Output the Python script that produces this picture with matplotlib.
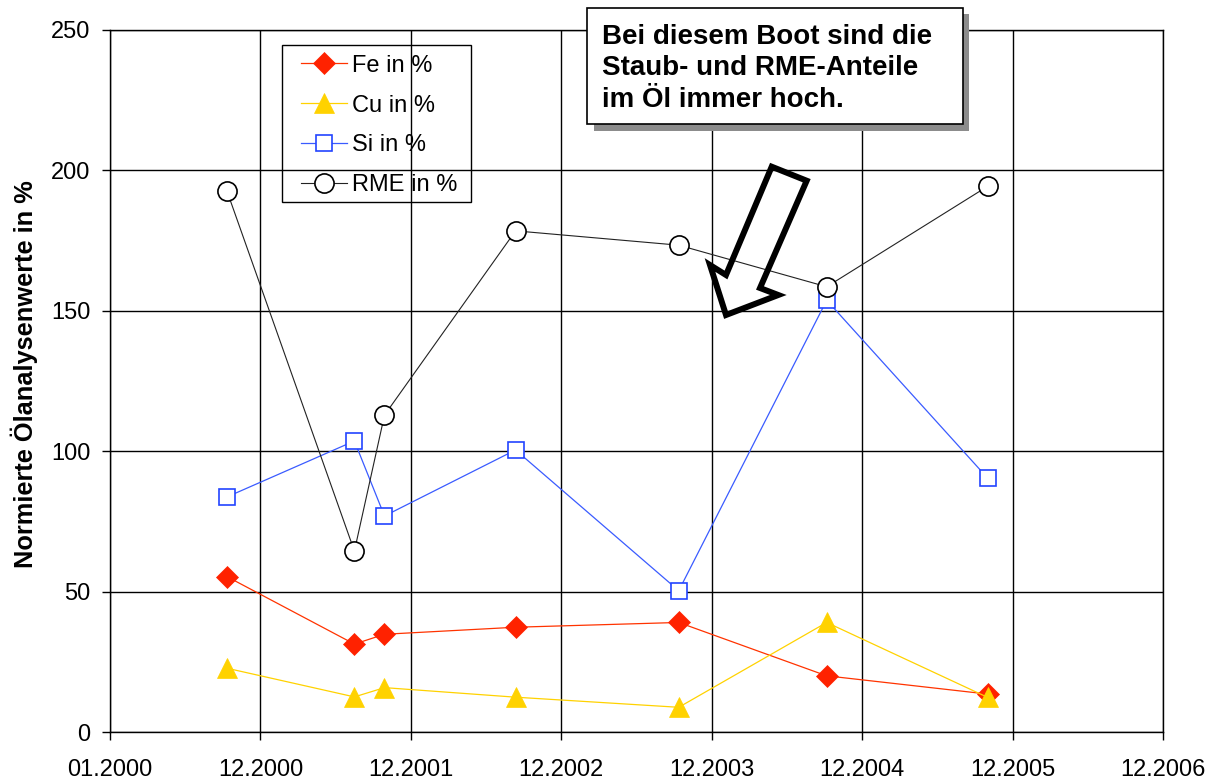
import matplotlib
matplotlib.use("Agg")
import matplotlib.pyplot as plt
import pandas as pd
from matplotlib.patches import Rectangle, Polygon

plt.rcParams['font.family'] = ['Liberation Sans', 'DejaVu Sans']

# ---- data ----
dates = ["2000-10-11", "2001-08-16", "2001-10-28", "2002-09-11",
         "2003-10-12", "2004-10-05", "2005-10-31"]
fe = [55.4, 31.4, 34.9, 37.4, 39.1, 20.1, 13.6]
cu = [22.8, 12.6, 15.9, 12.5, 8.9, 39.1, 12.4]
si = [83.8, 103.7, 77.0, 100.5, 50.4, 153.8, 90.4]
rme = [192.6, 64.5, 112.9, 178.5, 173.4, 158.6, 194.4]
tick_labels = ["01.2000", "12.2000", "12.2001", "12.2002",
               "12.2003", "12.2004", "12.2005", "12.2006"]
series_labels = ["Fe in %", "Cu in %", "Si in %", "RME in %"]
ylabel = "Normierte Ölanalysenwerte in %"
note = "Bei diesem Boot sind die\nStaub- und RME-Anteile\nim Öl immer hoch."

W, H = 1220, 783
start = pd.Timestamp("2000-01-01")
x = [(pd.Timestamp(d) - start).days for d in dates]

fig = plt.figure(figsize=(W / 100, H / 100), dpi=100)
ax = fig.add_axes([110 / W, 1 - 732.3 / H, 1053 / W, (732.3 - 30) / H])

def px(xp, yp):
    return (xp / W, 1 - yp / H)

ax.plot(x, fe, color='#FF3300', lw=0.9, marker='D', ms=11, mfc='#FF2200',
        mec='#FF2200', mew=0.5, label=series_labels[0], zorder=3)
ax.plot(x, cu, color='#FFD200', lw=0.9, marker='^', ms=14, mfc='#FFD200',
        mec='#FFD200', mew=0.5, label=series_labels[1], zorder=4)
ax.plot(x, si, color='#3A5BFF', lw=0.9, marker='s', ms=11.5, mfc='white',
        mec='#2244FF', mew=1.2, label=series_labels[2], zorder=5)
ax.plot(x, rme, color='#222222', lw=0.8, marker='o', ms=13.8, mfc='white',
        mec='black', mew=1.2, label=series_labels[3], zorder=6)

ax.set_xlim(0, 7 * 365)
ax.set_ylim(0, 250)
ax.set_xticks([k * 365 for k in range(8)])
ax.set_xticklabels(tick_labels)
ax.set_yticks([0, 50, 100, 150, 200, 250])
ax.grid(True, color='black', lw=1.0)
ax.set_axisbelow(True)
for s in ax.spines.values():
    s.set_color('black')
    s.set_linewidth(1.0)
ax.tick_params(axis='both', direction='out', length=6, width=1.0,
               labelsize=17, colors='black')
ax.tick_params(axis='x', pad=13.5)
ax.tick_params(axis='y', pad=8)

ax.set_ylabel(ylabel, fontsize=18.3, fontweight='bold')
ax.yaxis.set_label_coords((38 - 110) / 1053, 0.51)

# legend (frame drawn separately)
leg = ax.legend(loc='upper left', bbox_to_anchor=px(293.7, 47.5),
                bbox_transform=fig.transFigure, fontsize=17, frameon=False,
                borderpad=0.3, labelspacing=0.76, handlelength=1.95,
                handletextpad=0.2, borderaxespad=0)
leg.set_zorder(10)
lf = Rectangle(px(282.3, 201.7), (471 - 282.3) / W, (201.7 - 44.7) / H,
               transform=fig.transFigure, facecolor='none',
               edgecolor='black', lw=1.0, zorder=9)
fig.patches.append(lf)

# note box with shadow
sh = Rectangle(px(593.5, 130.5), (968.5 - 593.5) / W, (130.5 - 14) / H,
               transform=fig.transFigure, facecolor='#8c8c8c',
               edgecolor='none', zorder=20)
fig.patches.append(sh)
bx = Rectangle(px(587.3, 124), (962.7 - 587.3) / W, (124 - 8.3) / H,
               transform=fig.transFigure, facecolor='white',
               edgecolor='black', lw=1.2, zorder=21)
fig.patches.append(bx)
fig.text(602 / W, 1 - 24 / H, note, fontsize=20, fontweight='bold',
         ha='left', va='top', linespacing=1.27, zorder=22)

# hollow arrow
verts = [(771.7, 166.7), (806.7, 180.7), (760, 288), (778.3, 295),
         (726, 315), (710, 265), (726, 275)]
arr = Polygon([px(a, b) for a, b in verts], closed=True, fill=False,
              edgecolor='black', lw=4.3, joinstyle='miter',
              transform=fig.transFigure, zorder=15)
fig.patches.append(arr)

fig.savefig("out.png", dpi=100)
